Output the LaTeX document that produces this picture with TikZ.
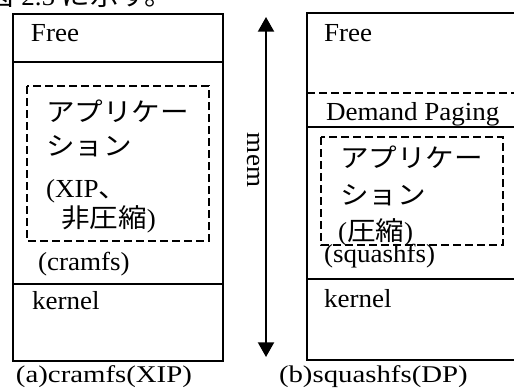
\documentclass[tikz,border=0pt]{standalone}
\usepackage{fontspec}
\setmainfont[FakeStretch=1.04]{Liberation Serif}
\newfontfamily\capfont[FakeStretch=1.2]{Liberation Serif}
\newfontfamily\jp[FakeStretch=1.1]{Noto Sans CJK JP}
\usetikzlibrary{arrows.meta}

\tikzset{every picture/.style={line width=1.5pt}}
\tikzset{
txt/.style={anchor=base west, inner sep=0pt, font=\fontsize{19.5}{23}\selectfont},
jtxt/.style={txt, font=\fontsize{19.5}{23}\selectfont\jp},
captxt/.style={txt, font=\fontsize{18}{22}\selectfont\capfont},
dashbox/.style={line width=1.1pt, dash pattern={on 6pt off 3pt}},
memarrow/.style={{Triangle[length=11pt,width=12pt]}-{Triangle[length=11pt,width=12pt]}}
}

\begin{document}
\begin{tikzpicture}[x=0.75pt,y=0.75pt,yscale=-1,xscale=1]
\useasboundingbox (0,0) rectangle (514,389);

% Text Node (cut off by the top edge)
\draw (-15,6) node[txt] (intro) {{\jp 図} 2.5 {\jp に示す。}};

%Shape: Rectangle (cramfs)
\draw (13,14) rectangle (223,361);
%Straight Lines
\draw (13,62) -- (223,62);
\draw (13,284) -- (223,284);
%Shape: Rectangle (application, dashed)
\draw [dashbox] (27,86) rectangle (209,241);

%Shape: Rectangle (squashfs, runs off the right edge)
\draw (307,13) rectangle (530,360);
%Straight Lines
\draw [dashbox] (307,93) -- (530,93);
\draw (307,127) -- (530,127);
\draw (307,279) -- (530,279);
%Shape: Rectangle (application, dashed)
\draw [dashbox] (321,137) rectangle (503,245);

%Straight Lines (mem arrow)
\coordinate (memtop) at (266,17);
\coordinate (membot) at (266,357);
\draw [memarrow] (memtop) -- (membot);

% Text Node
\draw (253,160) node[rotate=-90, inner sep=0pt, font=\fontsize{19.5}{23}\selectfont] (mem) {mem};

% Text Node
\draw (30,41) node[txt] (freeA) {Free};
% Text Node
\draw (45,121) node[jtxt] (appA1) {アプリケー};
% Text Node
\draw (45,155) node[jtxt] (appA2) {ション};
% Text Node
\draw (45,197) node[txt] (appA3) {(XIP{\jp 、}};
% Text Node
\draw (60,227) node[txt] (appA4) {{\jp 非圧縮})};
% Text Node
\draw (37,270) node[txt] (fsA) {(cramfs)};
% Text Node
\draw (31,309) node[txt] (kernelA) {kernel};
% Text Node
\draw (15,382) node[captxt] (capA) {(a)cramfs(XIP)};

% Text Node
\draw (323,41) node[txt] (freeB) {Free};
% Text Node
\draw (325,120) node[txt] (dpB) {Demand Paging};
% Text Node
\draw (339,167) node[jtxt] (appB1) {アプリケー};
% Text Node
\draw (339,204) node[jtxt] (appB2) {ション};
% Text Node
\draw (337,240) node[txt] (appB3) {({\jp 圧縮})};
% Text Node
\draw (323,262) node[txt] (fsB) {(squashfs)};
% Text Node
\draw (323,307) node[txt] (kernelB) {kernel};
% Text Node
\draw (278,382) node[captxt] (capB) {(b)squashfs(DP)};

\end{tikzpicture}
\end{document}
